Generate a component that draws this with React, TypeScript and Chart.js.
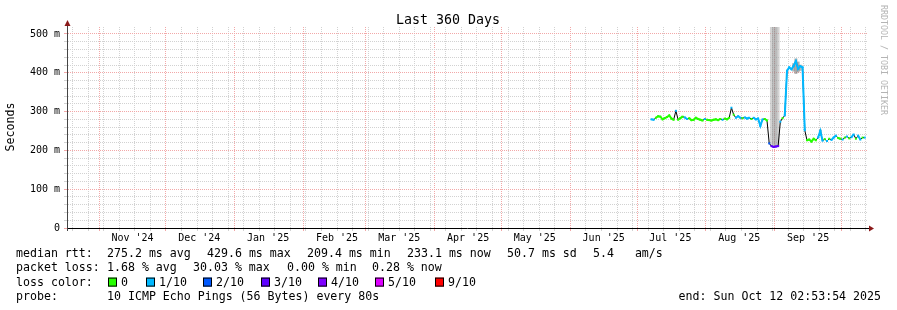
import React, { useEffect, useRef } from 'react';
import { Chart, registerables } from 'chart.js';

Chart.register(...registerables);

// ---------------- data ----------------
const graphTitle = 'Last 360 Days';
const yAxisTitle = 'Seconds';
const watermark = 'RRDTOOL / TOBI OETIKER';

const rangeStartUTC = Date.UTC(2024, 9, 17, 12, 0, 0);
const rangeDays = 360;

const monthLabels = ["Nov '24", "Dec '24", "Jan '25", "Feb '25", "Mar '25", "Apr '25", "May '25", "Jun '25", "Jul '25", "Aug '25", "Sep '25"];

const yMaxMs = 518;
const yMajorValues = [0, 100, 200, 300, 400, 500];
const yMajorLabels = ['0', '100 m', '200 m', '300 m', '400 m', '500 m'];

// first sample day (days since graph start), one median sample per day after it
const firstSampleDay = 263;
const medianMs = [
  280, 279, 284, 288, 287, 280, 283, 286, 290, 282,
  279, 302, 279, 283, 287, 285, 281, 283, 278, 279,
  284, 281, 279, 277, 281, 279, 278, 277, 279, 280,
  278, 281, 279, 282, 280, 284, 310, 292, 284, 288,
  284, 283, 285, 282, 284, 281, 284, 280, 282, 263,
  280, 281, 277, 218, 211, 209, 210, 211, 274, 283,
  290, 405, 414, 409, 418, 430, 410, 417, 414, 252,
  226, 228, 223, 230, 226, 233, 250, 225, 229, 224,
  230, 227, 233, 238, 232, 230, 228, 233, 236, 231,
  234, 241, 230, 238, 228, 233, 233,
];
// lost pings out of 10 for each sample
const lossPings = [
  1, 1, 0, 0, 0, 0, 0, 0, 0, 0,
  0, 1, 0, 0, 0, 1, 1, 0, 0, 0,
  0, 0, 0, 0, 1, 0, 0, 0, 0, 0,
  0, 0, 1, 0, 0, 0, 1, 0, 1, 1,
  1, 0, 1, 1, 1, 0, 1, 1, 1, 1,
  1, 0, 0, 2, 3, 3, 3, 3, 1, 0,
  1, 1, 1, 1, 1, 1, 1, 1, 1, 1,
  0, 0, 0, 0, 0, 1, 1, 1, 0, 1,
  0, 1, 1, 1, 0, 0, 1, 0, 1, 0,
  1, 1, 0, 1, 1, 0, 1,
];

// smoke (spread of the pings)
const smokeDays = [317, 318, 319, 320, 327, 328, 329, 330, 339];
const smokeLowMs = [211, 209, 210, 211, 404, 398, 402, 406, 238];
const smokeHighMs = [518, 518, 518, 518, 424, 436, 428, 420, 253];

const lossBucketMin = [0, 1, 2, 3, 4, 5, 6];
const lossBucketLabels = ['0', '1/10', '2/10', '3/10', '4/10', '5/10', '9/10'];

const medianStats = ['median rtt:', '275.2 ms avg', '429.6 ms max', '209.4 ms min', '233.1 ms now', '50.7 ms sd', '5.4   am/s'];
const lossStats = ['packet loss:', '1.68 % avg', '30.03 % max', '0.00 % min', '0.28 % now'];
const lossColorTitle = 'loss color:';
const probeTitle = 'probe:';
const probeText = '10 ICMP Echo Pings (56 Bytes) every 80s';
const endText = 'end: Sun Oct 12 02:53:54 2025';

// ---------------- styles / layout ----------------
const FONT = '"DejaVu Sans Mono", "Liberation Mono", monospace';
const lossColors = ['#26ff00', '#00b8ff', '#0059ff', '#5e00ff', '#7e00ff', '#dd00ff', '#ff0000'];
const smokeShades = [
  'rgba(170,170,170,0.5)', 'rgba(140,140,140,0.55)', 'rgba(140,140,140,0.55)', 'rgba(170,170,170,0.5)',
  'rgba(110,110,110,0.5)', 'rgba(110,110,110,0.55)', 'rgba(110,110,110,0.55)', 'rgba(110,110,110,0.5)',
  'rgba(130,130,130,0.5)',
];
const GRID_MAJOR = '#f2a8a8';
const GRID_MINOR = '#d2d2d2';
const ARROW = '#8b1a1a';
const medianX = [16, 107, 207, 307, 407, 507, 593];
const lossX = [16, 107, 193, 287, 372];
const boxX = [108, 146, 203, 261, 318, 375, 435];
const rowY = [257, 271.3, 285.6, 300];

const DAY = 86400000;
const dayOf = (t: number) => (t - rangeStartUTC) / DAY;

const weekLines: number[] = [];
const monthLines: number[] = [];
for (let t = Date.UTC(2024, 9, 18); t < rangeStartUTC + rangeDays * DAY; t += DAY) {
  const dt = new Date(t);
  if (dt.getUTCDate() === 1) monthLines.push(dayOf(t));
  else if (dt.getUTCDay() === 0) weekLines.push(dayOf(t));
}
const monthSet = new Set(monthLines);
const xGridValues = [...weekLines, ...monthLines].sort((a, b) => a - b);
const labelPositions = monthLines.map((d) => d + 15).filter((d) => d < rangeDays);

const yGridValues: number[] = [];
for (let v = 0; v <= 500; v += 20) yGridValues.push(v);

const bucketOf = (loss: number) => {
  let b = 0;
  lossBucketMin.forEach((m, i) => { if (loss >= m) b = i; });
  return b;
};

const decorPlugin = {
  id: 'rrdDecor',
  afterDraw(chart: any) {
    const ctx: CanvasRenderingContext2D = chart.ctx;
    const { left, right, top, bottom } = chart.chartArea;
    ctx.save();
    // axis extensions
    ctx.lineWidth = 1;
    ctx.strokeStyle = '#444';
    ctx.beginPath();
    ctx.moveTo(left + 0.5, top + 1);
    ctx.lineTo(left + 0.5, top - 3);
    ctx.moveTo(left + 0.5, bottom);
    ctx.lineTo(left + 0.5, bottom + 3);
    ctx.stroke();
    ctx.strokeStyle = '#000';
    ctx.beginPath();
    ctx.moveTo(right - 1, bottom + 0.5);
    ctx.lineTo(right + 3, bottom + 0.5);
    ctx.stroke();
    // arrows
    ctx.fillStyle = ARROW;
    ctx.beginPath();
    ctx.moveTo(left + 0.5, top - 7);
    ctx.lineTo(left - 2.5, top - 1);
    ctx.lineTo(left + 3.5, top - 1);
    ctx.closePath();
    ctx.fill();
    ctx.beginPath();
    ctx.moveTo(right + 7, bottom + 0.5);
    ctx.lineTo(right + 2, bottom - 2.5);
    ctx.lineTo(right + 2, bottom + 3.5);
    ctx.closePath();
    ctx.fill();

    // title
    ctx.fillStyle = '#000';
    ctx.font = `13.3px ${FONT}`;
    ctx.textAlign = 'center';
    ctx.textBaseline = 'alphabetic';
    ctx.fillText(graphTitle, 448, 24);

    // y title
    ctx.save();
    ctx.translate(11, 127);
    ctx.rotate(-Math.PI / 2);
    ctx.font = `11.6px ${FONT}`;
    ctx.textBaseline = 'middle';
    ctx.fillText(yAxisTitle, 0, 0);
    ctx.restore();

    // watermark
    ctx.save();
    ctx.translate(883, 5);
    ctx.rotate(Math.PI / 2);
    ctx.font = `8.3px ${FONT}`;
    ctx.fillStyle = '#b4b4b4';
    ctx.textAlign = 'left';
    ctx.textBaseline = 'middle';
    ctx.fillText(watermark, 0, 0);
    ctx.restore();

    // legend
    ctx.font = `11.6px ${FONT}`;
    ctx.textAlign = 'left';
    ctx.textBaseline = 'alphabetic';
    ctx.fillStyle = '#000';
    medianStats.forEach((s, i) => ctx.fillText(s, medianX[i], rowY[0]));
    lossStats.forEach((s, i) => ctx.fillText(s, lossX[i], rowY[1]));
    ctx.fillText(lossColorTitle, 16, rowY[2]);
    lossBucketLabels.forEach((s, i) => {
      const bx = boxX[i];
      ctx.fillStyle = lossColors[i];
      ctx.fillRect(bx, rowY[2] - 8, 9, 9);
      ctx.strokeStyle = '#000';
      ctx.lineWidth = 1;
      ctx.strokeRect(bx + 0.5, rowY[2] - 7.5, 8, 8);
      ctx.fillStyle = '#000';
      ctx.fillText(s, bx + 13, rowY[2]);
    });
    ctx.fillText(probeTitle, 16, rowY[3]);
    ctx.fillText(probeText, 107, rowY[3]);
    ctx.textAlign = 'right';
    ctx.fillText(endText, 881, rowY[3]);
    ctx.restore();
  },
};

export default function App() {
  const ref = useRef<HTMLCanvasElement | null>(null);

  useEffect(() => {
    if (!ref.current) return;
    const points = medianMs.map((v, i) => ({ x: firstSampleDay + i, y: v }));
    const lossDatasets = lossColors.map((color, b) => ({
      type: 'line' as const,
      label: lossBucketLabels[b],
      data: medianMs.map((v, i) => ({ x: firstSampleDay + i, y: bucketOf(lossPings[i]) === b ? v : null })),
      borderColor: color,
      backgroundColor: color,
      borderWidth: 2,
      pointRadius: 1.4,
      pointStyle: 'rect' as const,
      pointBorderWidth: 0,
      spanGaps: false,
      order: 1,
      xAxisID: 'x',
      yAxisID: 'y',
    }));

    const chart = new Chart(ref.current, {
      type: 'line',
      data: {
        datasets: [
          {
            type: 'bar',
            label: 'smoke',
            data: smokeDays.map((d, i) => ({ x: d, y: [smokeLowMs[i], smokeHighMs[i]] })) as any,
            backgroundColor: smokeShades,
            borderWidth: 0,
            barThickness: 2.3,
            order: 10,
            xAxisID: 'x',
            yAxisID: 'y',
          } as any,
          {
            type: 'line',
            label: 'median',
            data: points,
            borderColor: '#000',
            borderWidth: 1,
            pointRadius: 0,
            order: 5,
            xAxisID: 'x',
            yAxisID: 'y',
          },
          ...lossDatasets,
        ],
      },
      options: {
        responsive: false,
        animation: false,
        devicePixelRatio: 1,
        events: [],
        layout: { padding: { top: 27, right: 30, left: 0, bottom: 0 } },
        plugins: { legend: { display: false }, tooltip: { enabled: false }, title: { display: false } },
        scales: {
          x: {
            type: 'linear',
            position: 'bottom',
            min: 0,
            max: rangeDays,
            offset: false,
            afterBuildTicks: (s: any) => { s.ticks = xGridValues.map((v) => ({ value: v })); },
            afterFit: (s: any) => { s.height = 0; },
            ticks: { display: false, autoSkip: false },
            grid: {
              offset: false,
              color: (c: any) => (monthSet.has(c.tick?.value) ? GRID_MAJOR : GRID_MINOR),
              tickColor: (c: any) => (monthSet.has(c.tick?.value) ? GRID_MAJOR : GRID_MINOR),
              lineWidth: 1,
              drawTicks: true,
              tickLength: 3,
            },
            border: { display: true, color: '#000', width: 1, dash: [1, 1] },
          },
          x2: {
            type: 'linear',
            position: 'bottom',
            min: 0,
            max: rangeDays,
            offset: false,
            afterBuildTicks: (s: any) => { s.ticks = labelPositions.map((v) => ({ value: v })); },
            afterFit: (s: any) => { s.height = 82; },
            grid: { display: false, drawTicks: false, offset: false },
            border: { display: false },
            ticks: {
              autoSkip: false,
              maxRotation: 0,
              minRotation: 0,
              padding: 4,
              color: '#000',
              font: { family: FONT, size: 10 },
              callback: (_v: any, i: number) => monthLabels[i],
            },
          },
          y: {
            type: 'linear',
            position: 'left',
            min: 0,
            max: yMaxMs,
            afterBuildTicks: (s: any) => { s.ticks = yGridValues.map((v) => ({ value: v })); },
            afterFit: (s: any) => { s.width = 67; },
            ticks: {
              autoSkip: false,
              padding: 4,
              color: '#000',
              font: { family: FONT, size: 10 },
              callback: (v: any) => {
                const idx = yMajorValues.indexOf(Number(v));
                return idx >= 0 ? yMajorLabels[idx] : '';
              },
            },
            grid: {
              color: (c: any) => (c.tick?.value % 100 === 0 ? GRID_MAJOR : GRID_MINOR),
              tickColor: (c: any) => (c.tick?.value % 100 === 0 ? GRID_MAJOR : GRID_MINOR),
              lineWidth: 1,
              drawTicks: true,
              tickLength: 3,
            },
            border: { display: true, color: '#444', width: 1, dash: [1, 1] },
          },
        },
      } as any,
      plugins: [decorPlugin],
    });
    return () => chart.destroy();
  }, []);

  return (
    <div style={{ position: 'fixed', left: 0, top: 0, width: 897, height: 310, background: '#fff' }}>
      <canvas ref={ref} width={897} height={310} style={{ display: 'block', width: 897, height: 310 }} />
    </div>
  );
}
